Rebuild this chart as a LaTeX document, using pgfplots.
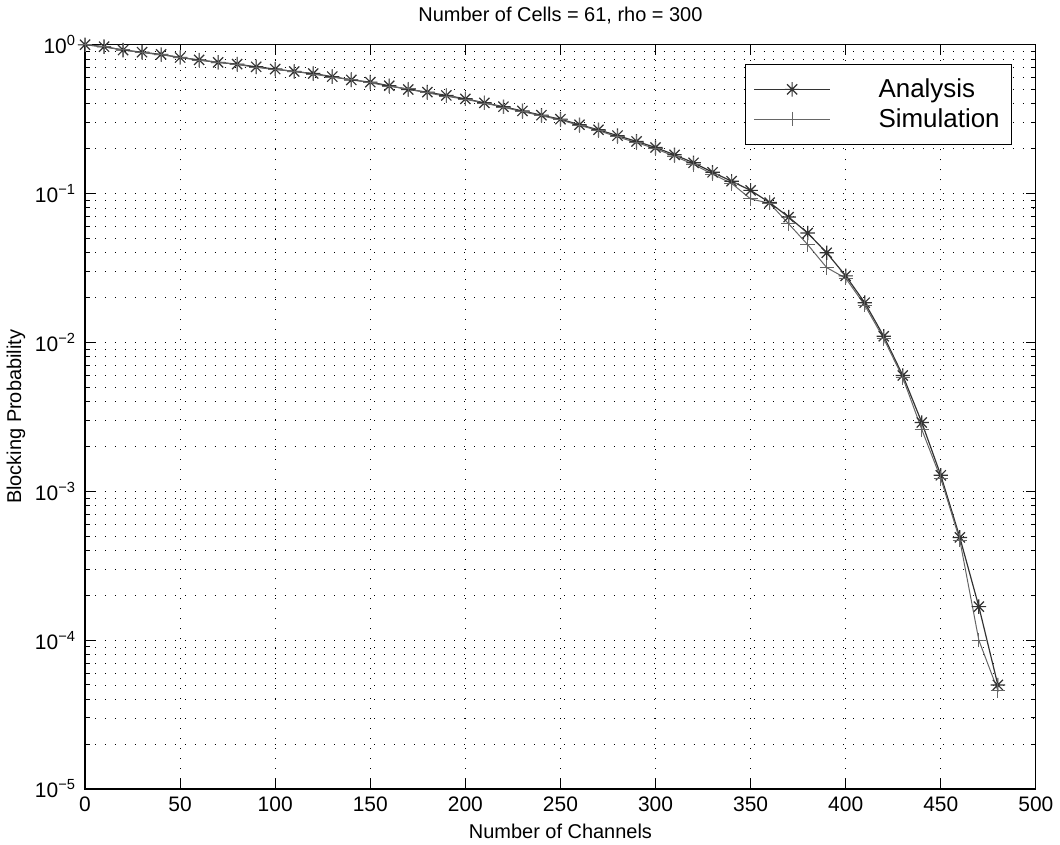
\documentclass[border=0pt]{standalone}
\usepackage{fontspec}
\setmainfont{Liberation Sans}
\usepackage{pgfplots}
\pgfplotsset{compat=1.18}

% MATLAB-style eight-ray asterisk
\pgfdeclareplotmark{mstar}{%
  \pgfpathmoveto{\pgfqpoint{-\pgfplotmarksize}{0pt}}%
  \pgfpathlineto{\pgfqpoint{\pgfplotmarksize}{0pt}}%
  \pgfpathmoveto{\pgfqpoint{0pt}{-\pgfplotmarksize}}%
  \pgfpathlineto{\pgfqpoint{0pt}{\pgfplotmarksize}}%
  \pgfpathmoveto{\pgfqpoint{-.707\pgfplotmarksize}{-.707\pgfplotmarksize}}%
  \pgfpathlineto{\pgfqpoint{.707\pgfplotmarksize}{.707\pgfplotmarksize}}%
  \pgfpathmoveto{\pgfqpoint{-.707\pgfplotmarksize}{.707\pgfplotmarksize}}%
  \pgfpathlineto{\pgfqpoint{.707\pgfplotmarksize}{-.707\pgfplotmarksize}}%
  \pgfusepathqstroke}

\begin{document}
\begin{tikzpicture}
\begin{axis}[
  scale only axis,
  width=476.5pt, height=373pt,
  ymode=log,
  xmin=0, xmax=500, ymin=1e-5, ymax=1,
  xtick={0,50,...,500},
  minor x tick num=0,
  ytick={1e-5,1e-4,1e-3,1e-2,1e-1,1},
  yticklabels={10\textsuperscript{−5},10\textsuperscript{−4},10\textsuperscript{−3},10\textsuperscript{−2},10\textsuperscript{−1},10\textsuperscript{0}},
  /pgf/number format/assume math mode=true,
  tick label style={font=\fontsize{10.5}{12}\selectfont},
  xticklabel style={yshift=-0.5pt},
  yticklabel style={xshift=-1pt},
  tick align=inside,
  major tick length=5pt,
  minor tick length=2.5pt,
  every tick/.style={black, line width=0.5pt},
  axis line style={black, line width=0.6pt},
  xmajorgrids, ymajorgrids, yminorgrids,
  major grid style={black, line width=0.45pt, dash pattern=on 0.5pt off 4.5pt},
  minor grid style={black, line width=0.45pt, dash pattern=on 0.5pt off 4.5pt},
  title={Number of Cells = 61, rho = 300},
  title style={font=\fontsize{10}{11}\selectfont, yshift=1pt},
  xlabel={Number of Channels},
  ylabel={Blocking Probability},
  label style={font=\fontsize{10}{11}\selectfont},
  xlabel style={yshift=1pt},
  ylabel style={yshift=-2pt},
  legend style={at={(0.975,0.974)}, anchor=north east, draw=black, line width=0.5pt,
    font=\fontsize{13}{14}\selectfont, inner xsep=4pt, inner ysep=5pt,
    row sep=0pt,
    /tikz/every odd column/.append style={column sep=22pt}},
  legend cell align=left,
  legend image code/.code={%
    \draw[#1, mark=none] (0pt,0pt) -- (38pt,0pt);
    \draw[#1, only marks] plot coordinates {(19pt,0pt)};},
]
\addplot[black!80, line width=0.6pt, mark=mstar, mark size=3.6pt,
  mark options={solid, black!80, line width=0.6pt}]
  coordinates {
    (0,1.0)(10,0.97)(20,0.92)(30,0.89)(40,0.86)(50,0.82)(60,0.79)(70,0.76)
    (80,0.74)(90,0.71)(100,0.686)(110,0.66)(120,0.64)(130,0.61)(140,0.58)
    (150,0.56)(160,0.53)(170,0.50)(180,0.48)(190,0.456)(200,0.433)(210,0.407)
    (220,0.383)(230,0.359)(240,0.336)(250,0.316)(260,0.29)(270,0.268)(280,0.245)
    (290,0.224)(300,0.204)(310,0.182)(320,0.161)(330,0.139)(340,0.121)(350,0.105)
    (360,0.087)(370,0.0695)(380,0.0543)(390,0.040)(400,0.028)(410,0.0185)
    (420,0.011)(430,0.006)(440,0.0029)(450,0.00128)(460,0.00049)(470,0.000168)
    (480,0.00005)
  };
\addlegendentry{Analysis}
\addplot[black!60, line width=0.5pt, mark=+, mark size=3.6pt,
  mark options={solid, black!60, line width=0.5pt}]
  coordinates {
    (0,1.0)(10,0.965)(20,0.925)(30,0.885)(40,0.855)(50,0.825)(60,0.785)(70,0.765)
    (80,0.735)(90,0.705)(100,0.68)(110,0.665)(120,0.635)(130,0.605)(140,0.585)
    (150,0.555)(160,0.525)(170,0.505)(180,0.475)(190,0.45)(200,0.43)(210,0.405)
    (220,0.38)(230,0.355)(240,0.333)(250,0.312)(260,0.287)(270,0.265)(280,0.24)
    (290,0.22)(300,0.2)(310,0.178)(320,0.157)(330,0.135)(340,0.117)(350,0.092)
    (360,0.086)(370,0.0626)(380,0.0454)(390,0.0318)(400,0.027)(410,0.0178)
    (420,0.0106)(430,0.0058)(440,0.0026)(450,0.00122)(460,0.00047)(470,0.0001)
    (480,0.000046)
  };
\addlegendentry{Simulation}
\end{axis}
\end{tikzpicture}
\end{document}
